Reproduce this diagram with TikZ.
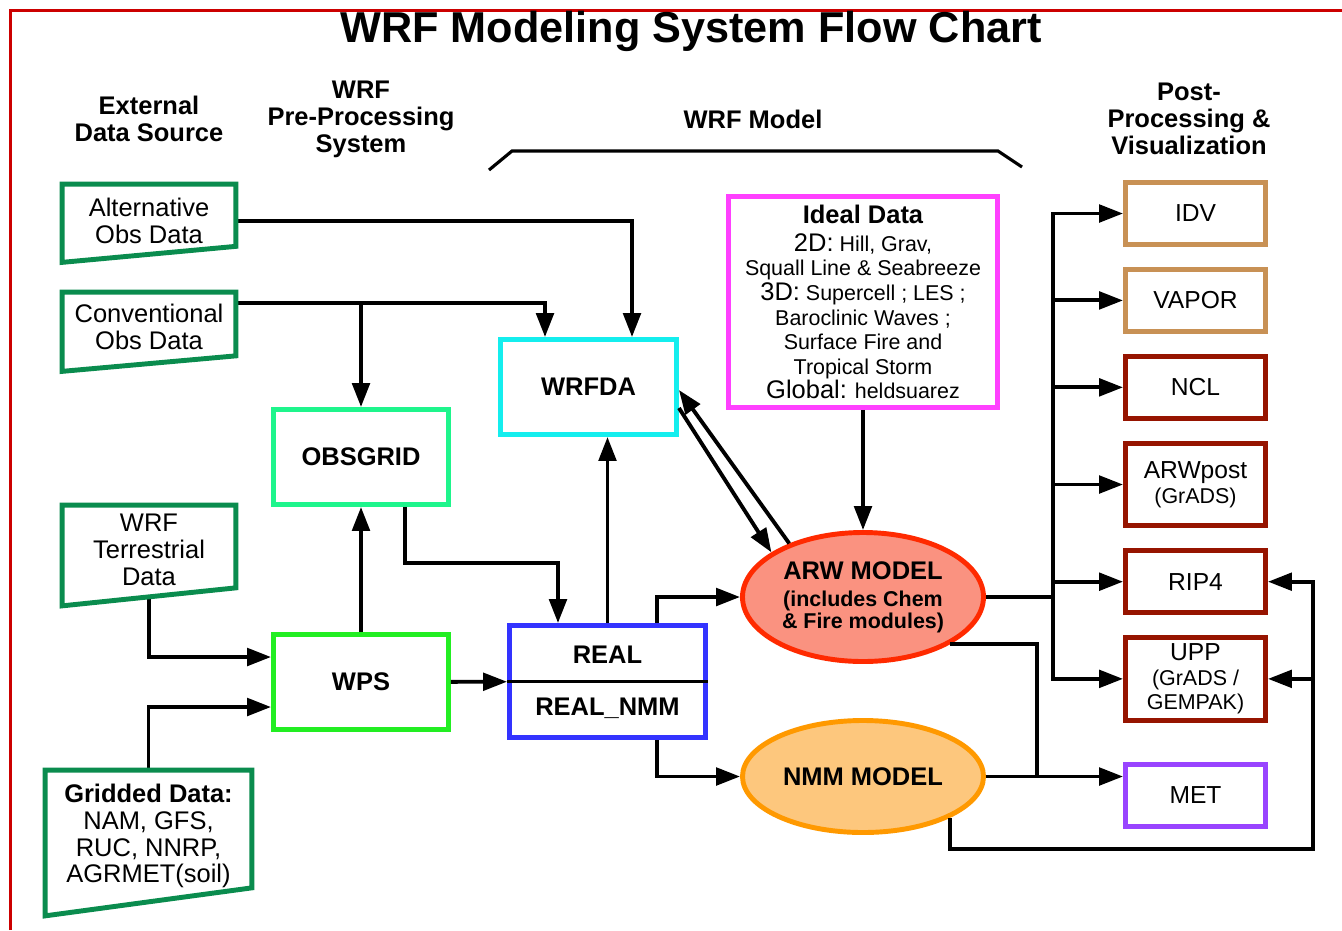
\documentclass[tikz,border=0pt]{standalone}
\usepackage{fontspec}
\setmainfont{Liberation Sans}
\usepackage{tikz}
\usetikzlibrary{shapes.geometric, arrows.meta, positioning, calc}

\definecolor{framered}{RGB}{204,0,0}
\definecolor{srcgreen}{RGB}{10,140,78}
\definecolor{obsgreen}{RGB}{30,245,140}
\definecolor{wpsgreen}{RGB}{34,238,34}
\definecolor{dacyan}{RGB}{20,238,238}
\definecolor{realblue}{RGB}{51,51,255}
\definecolor{idealpink}{RGB}{255,64,255}
\definecolor{arwred}{RGB}{255,42,0}
\definecolor{arwfill}{RGB}{250,146,128}
\definecolor{nmmorange}{RGB}{255,153,0}
\definecolor{nmmfill}{RGB}{253,199,125}
\definecolor{vistan}{RGB}{200,145,85}
\definecolor{postred}{RGB}{150,20,0}
\definecolor{metpurple}{RGB}{153,68,255}

\newcommand\smallsz{\fontsize{12.2}{14}\selectfont}
\newcommand\bigsz{\fontsize{14.5}{14}\selectfont}

\begin{document}
\begin{tikzpicture}[
    x=0.2mm, y=-0.2mm,
    node distance=0.4cm,
    hdr/.style={align=center, font=\bfseries\fontsize{14.5}{15.3}\selectfont},
    src/.style={align=center, inner sep=0pt, minimum width=3.46cm, font=\fontsize{14.5}{15.3}\selectfont},
    srcline/.style={draw=srcgreen, line width=2.8pt},
    box/.style={rectangle, line width=2.8pt, minimum width=3.5cm, minimum height=1.9cm, align=center, font=\bfseries\fontsize{14.5}{15.3}\selectfont},
    postbox/.style={rectangle, line width=2.8pt, minimum width=2.8cm, minimum height=1.24cm, align=center, font=\fontsize{14}{14}\selectfont},
    tallbox/.style={postbox, minimum height=1.65cm},
    modelnode/.style={ellipse, line width=2.8pt, minimum width=4.82cm, inner sep=0pt, align=center},
    conn/.style={line width=2.2pt},
    arr/.style={conn, -{Triangle[length=4.8mm, width=3.5mm]}},
  ]
    \useasboundingbox (0,0) rectangle (1342,930);
    \draw[framered, line width=0.6mm] (10,930) -- (10,10) -- (1342,10);

    % headings
    \node[font=\bfseries\fontsize{24.6}{28}\selectfont] (title) at (691,31) {WRF Modeling System Flow Chart};
    \node[hdr] (hdsrc) at (149,119) {External\\Data Source};
    \node[hdr] (hdpre) at (361,119) {WRF\\Pre-Processing\\System};
    \node[hdr] (hdmod) at (753,119) {WRF Model};
    \node[hdr] (hdpost) at (1189,119) {Post-\\Processing \&\\Visualization};
    \draw[line width=1.8pt] (489,170) -- (512,151) -- (998,151) -- (1022,167);

    % external data
    \node[src, minimum height=1.46cm] (alt) at (149,221) {Alternative\\Obs Data};
    \node[src, minimum height=1.38cm] (conv) at (149,327) {Conventional\\Obs Data};
    \node[src, minimum height=1.78cm] (terr) at (149,550) {WRF\\Terrestrial\\Data};
    \node[src, minimum width=4.12cm, minimum height=2.62cm] (grid) at (148.5,836) {{\bfseries Gridded Data:}\\NAM, GFS,\\RUC, NNRP,\\AGRMET(soil)};

    % pre-processing and model
    \node[box, draw=obsgreen] (obsgrid) at (361,457) {OBSGRID};
    \node[box, draw=wpsgreen] (wps) at (361,682) {WPS};
    \node[box, draw=dacyan, minimum width=3.52cm] (wrfda) at (588.5,387) {WRFDA};
    \node[box, draw=realblue, minimum width=3.92cm, minimum height=2.24cm] (real) at (607.5,681.5) {};
    \node[font=\bfseries\fontsize{14.5}{15.3}\selectfont] (realarw) at (607.5,655) {REAL};
    \node[font=\bfseries\fontsize{14.5}{15.3}\selectfont] (realnmm) at (607.5,708) {REAL\_NMM};
    \draw[line width=1.6pt] (real.west) -- (real.east);
    \node[box, draw=idealpink, minimum width=5.38cm, minimum height=4.22cm, font=\smallsz] (ideal) at (863,302)
      {{\bfseries\bigsz Ideal Data}\\[2pt]
       {\bigsz 2D:} Hill, Grav,\\
       Squall Line \& Seabreeze\\
       {\bigsz 3D:} Supercell ; LES ;\\
       Baroclinic Waves ;\\
       Surface Fire and\\
       Tropical Storm\\
       {\bigsz Global:} heldsuarez};
    \node[modelnode, draw=arwred, fill=arwfill, minimum height=2.58cm, font=\bfseries\smallsz] (arw) at (863,597)
      {{\bigsz ARW MODEL}\\[1.4pt] (includes Chem\\[-1.5pt] \& Fire modules)};
    \node[modelnode, draw=nmmorange, fill=nmmfill, minimum height=2.24cm, font=\bfseries\bigsz] (nmm) at (863,776.5) {NMM MODEL};

    % post-processing
    \node[postbox, draw=vistan] (idv) at (1195.5,213.5) {IDV};
    \node[postbox, draw=vistan, below=of idv] (vapor) {VAPOR};
    \node[postbox, draw=postred, below=of vapor] (ncl) {NCL};
    \node[tallbox, draw=postred, below=of ncl] (arwpost) {ARWpost\\{\smallsz (GrADS)}};
    \node[postbox, draw=postred, below=of arwpost] (rip) {RIP4};
    \node[tallbox, draw=postred, below=of rip] (upp) {UPP\\{\smallsz (GrADS /}\\{\smallsz GEMPAK)}};
    \node[postbox, draw=metpurple, below=0.78cm of upp] (met) {MET};

    % connectors
    \coordinate (convout) at ([yshift=4.8mm]conv.east);
    \draw[arr] (alt.east) -| ([xshift=8.7mm]wrfda.north);
    \draw[arr] (convout) -| ([xshift=-8.7mm]wrfda.north);
    \draw[arr] (convout -| obsgrid.north) -- (obsgrid.north);
    \draw[arr] (terr.south) |- ([yshift=5mm]wps.west);
    \draw[arr] (grid.north) |- ([yshift=-5mm]wps.west);
    \draw[arr] (wps) -- (obsgrid);
    \draw[arr] (wps) -- (real);
    \draw[arr] ([xshift=8.8mm]obsgrid.south) -- ++(0,56) -| ([xshift=-9.9mm]real.north);
    \draw[arr] (real.north) -- (real.north |- wrfda.south);
    \draw[arr] ([xshift=9.9mm]real.north) |- (arw.west);
    \draw[arr] ([xshift=9.9mm]real.south) |- (nmm.west);
    \draw[arr] (ideal) -- (arw);
    \draw[arr] ([yshift=-4.2mm]wrfda.east) -- (arw.154);
    \draw[arr] (arw.144) -- ([yshift=-0.6mm]wrfda.east);

    \coordinate (trk) at (1053,597);
    \draw[conn] (arw.east) -- (trk);
    \draw[arr] (trk) |- (idv.west);
    \draw[arr] (trk) |- (upp.west);
    \foreach \p in {vapor, ncl, arwpost, rip}
      \draw[arr] (trk |- \p.west) -- (\p.west);

    \coordinate (metj) at (1037,776.5);
    \draw[conn] (arw.south east) -| (metj);
    \draw[arr] (nmm.east) -- (nmm.east -| met.west);

    \coordinate (fbk) at (1313,849);
    \draw[arr] (nmm.south east) |- (fbk) |- (rip.east);
    \draw[arr] (fbk |- upp.east) -- (upp.east);

    % data source outlines
    \foreach \n/\r/\l in {alt/2.3mm/0.9mm, conv/1.2mm/1.9mm, terr/1.4mm/2.2mm, grid/2.8mm/2.8mm}
      \draw[srcline] (\n.north west) -- (\n.north east) -- ([yshift=\r]\n.south east) -- ([yshift=-\l]\n.south west) -- cycle;
  \end{tikzpicture}
\end{document}
